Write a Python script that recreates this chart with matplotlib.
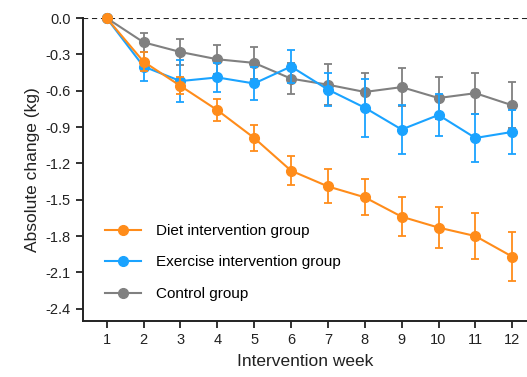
import numpy as np
import matplotlib.pyplot as plt
from matplotlib.lines import Line2D

plt.rcParams['font.family'] = ['Liberation Sans', 'DejaVu Sans']

# Mean change per week and the error (SE) for each group
weeks = np.arange(1, 13)
diet_mean = [0, -0.36, -0.56, -0.76, -0.99, -1.26, -1.39, -1.48, -1.64, -1.73, -1.80, -1.97]
diet_err = [0, 0.08, 0.07, 0.09, 0.11, 0.12, 0.14, 0.15, 0.16, 0.17, 0.19, 0.20]
exercise_mean = [0, -0.40, -0.52, -0.49, -0.54, -0.40, -0.59, -0.74, -0.92, -0.80, -0.99, -0.94]
exercise_err = [0, 0.12, 0.17, 0.12, 0.14, 0.14, 0.14, 0.24, 0.20, 0.17, 0.20, 0.18]
control_mean = [0, -0.20, -0.28, -0.34, -0.37, -0.50, -0.55, -0.61, -0.57, -0.66, -0.62, -0.72]
control_err = [0, 0.08, 0.11, 0.12, 0.13, 0.13, 0.17, 0.16, 0.16, 0.17, 0.17, 0.19]

yticks = [0.0, -0.3, -0.6, -0.9, -1.2, -1.5, -1.8, -2.1, -2.4]

fig = plt.figure(figsize=(5.27, 3.77), dpi=100)
ax = fig.add_axes([0.157, 0.149, 0.843, 0.803])

ax.axhline(0, color='#222222', lw=1.5, ls=(0, (2.5, 1.8)), zorder=1)

series = [
    ('Control group', control_mean, control_err, '#808080'),
    ('Exercise intervention group', exercise_mean, exercise_err, '#1aa3ff'),
    ('Diet intervention group', diet_mean, diet_err, '#ff8c1a'),
]
colors = {}
for i, (name, m, e, c) in enumerate(series):
    ax.errorbar(weeks, m, yerr=e, color=c, lw=1.5, marker='o', ms=7,
                capsize=3, capthick=1.3, elinewidth=1.3,
                zorder=3 + i, clip_on=False)
    colors[name] = c

# legend shows plain line + marker, no error bars
order = ['Diet intervention group', 'Exercise intervention group', 'Control group']
proxies = [Line2D([], [], color=colors[n], lw=1.5, marker='o', ms=7) for n in order]
ax.legend(proxies, order, loc='lower left',
          bbox_to_anchor=(0.02, 0.02), frameon=False, fontsize=11,
          handlelength=2.3, labelspacing=1.15, handletextpad=1.0)

ax.set_xlim(0.35, 12.4)
ax.set_ylim(-2.5, 0)
ax.set_xticks(weeks)
ax.set_yticks(yticks)
ax.set_yticklabels([f'{v:.1f}' for v in yticks])
ax.tick_params(labelsize=10.5, width=1.3, length=5, color='#222222', labelcolor='#222222')

for s in ['top', 'right']:
    ax.spines[s].set_visible(False)
for s in ['left', 'bottom']:
    ax.spines[s].set_linewidth(1.4)
    ax.spines[s].set_color('#222222')

ax.set_xlabel('Intervention week', fontsize=12.5, color='#222222', labelpad=5)
ax.set_ylabel('Absolute change (kg)', fontsize=12.5, color='#222222', labelpad=4)

fig.savefig('out.png', dpi=100)
